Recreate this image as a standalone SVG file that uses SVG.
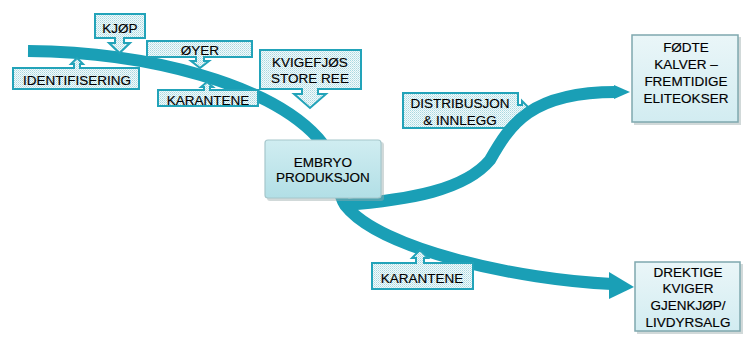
<svg xmlns="http://www.w3.org/2000/svg" width="744" height="344" viewBox="0 0 744 344">
<defs>
<pattern id="dots" width="2" height="2" patternUnits="userSpaceOnUse">
<rect width="2" height="2" fill="#f3fafb"/>
<rect x="0" y="0" width="1" height="1" fill="#a9d8e0"/>
<rect x="1" y="1" width="1" height="1" fill="#c6e6ec"/>
</pattern>
<linearGradient id="nodeG" x1="0" y1="0" x2="0" y2="1">
<stop offset="0" stop-color="#eaf6f8"/>
<stop offset="1" stop-color="#d2ecf1"/>
</linearGradient>
<linearGradient id="embG" x1="0" y1="0" x2="0" y2="1">
<stop offset="0" stop-color="#d0edf1"/>
<stop offset="1" stop-color="#b2dfe6"/>
</linearGradient>
</defs>
<style>
.co{fill:url(#dots);stroke:#22a3b9;stroke-width:2;stroke-linejoin:miter}
.t{font-family:"Liberation Sans",Arial,sans-serif;font-size:13.5px;fill:#000;stroke:#000;stroke-width:0.15;text-anchor:middle}
.flow{fill:none;stroke:#1a9fb6;stroke-width:12}
.head{fill:#1a9fb6}
.node{fill:url(#nodeG);stroke:#7fa8ae;stroke-width:1.5}
.shadow{fill:#9aa;opacity:0.45}
</style>

<g id="callout-distribusjon">
<path class="co" d="M403,93 H518 V105 H522 V101 L531,110 L522,119 V115 H518 V128 H403 Z"/>
<text class="t" x="460" y="108">DISTRIBUSJON</text>
<text class="t" x="460" y="125">&amp; INNLEGG</text>
</g>

<g id="connectors">
<path class="flow" d="M28,51 C150,52 270,85 318,138 C336,158 335,190 345,205 C380,250 520,280 612,284"/>
<polygon class="head" points="609,272 634,287 609,299"/>
<path class="flow" d="M343,205 C410,200 465,190 490,160 C510,125 530,92 616,92" stroke-width="13"/>
<polygon class="head" points="614,85 630,92 614,99"/>
</g>

<g id="callout-kjop">
<path class="co" d="M95,14 H145 V38 H124 V43 H130 L119.5,53 L109,43 H115 V38 H95 Z"/>
<text class="t" x="120" y="32.5">KJØP</text>
</g>

<g id="callout-oyer">
<path class="co" d="M147,41 H252 V57 H204 V61 H209 L200,68 L191,61 H196 V57 H147 Z"/>
<text class="t" x="200" y="55">ØYER</text>
</g>

<g id="callout-identifisering">
<path class="co" d="M13,68 H74 V64 H71 L77,58 L83,64 H80 V68 H139 V89 H13 Z"/>
<text class="t" x="77" y="85">IDENTIFISERING</text>
</g>

<g id="callout-karantene-1">
<path class="co" d="M158,90 H204 V87 H201 L207,82 L213,87 H210 V90 H258 V106 H158 Z"/>
<text class="t" x="208" y="104.5">KARANTENE</text>
</g>

<g id="callout-kvigefjos">
<path class="co" d="M260,50 H361 V89 H318 V94 H326 L310,108 L294,94 H302 V89 H260 Z"/>
<text class="t" x="310" y="67">KVIGEFJØS</text>
<text class="t" x="310" y="83">STORE REE</text>
</g>

<g id="callout-karantene-2">
<path class="co" d="M372,263 H416 V258 H412 L420,250 L428,258 H424 V263 H473 V289 H372 Z"/>
<text class="t" x="422" y="283">KARANTENE</text>
</g>

<g id="node-embryo">
<rect class="shadow" x="267" y="142" width="117" height="59" rx="3"/>
<rect x="265" y="140" width="116" height="58" rx="3" fill="url(#embG)" stroke="#a6c7cc" stroke-width="1.2"/>
<text class="t" x="323" y="167">EMBRYO</text>
<text class="t" x="323" y="182">PRODUKSJON</text>
</g>

<g id="node-fodte">
<rect class="shadow" x="634" y="37" width="107" height="88"/>
<rect class="node" x="632" y="35" width="106" height="87"/>
<text class="t" x="686" y="52">FØDTE</text>
<text class="t" x="686" y="69">KALVER –</text>
<text class="t" x="686" y="86">FREMTIDIGE</text>
<text class="t" x="686" y="103">ELITEOKSER</text>
</g>

<g id="node-drektige">
<rect class="shadow" x="637" y="264" width="106" height="70"/>
<rect class="node" x="635" y="262" width="105" height="69"/>
<text class="t" x="688" y="277">DREKTIGE</text>
<text class="t" x="688" y="293">KVIGER</text>
<text class="t" x="688" y="310">GJENKJØP/</text>
<text class="t" x="688" y="327">LIVDYRSALG</text>
</g>
</svg>
